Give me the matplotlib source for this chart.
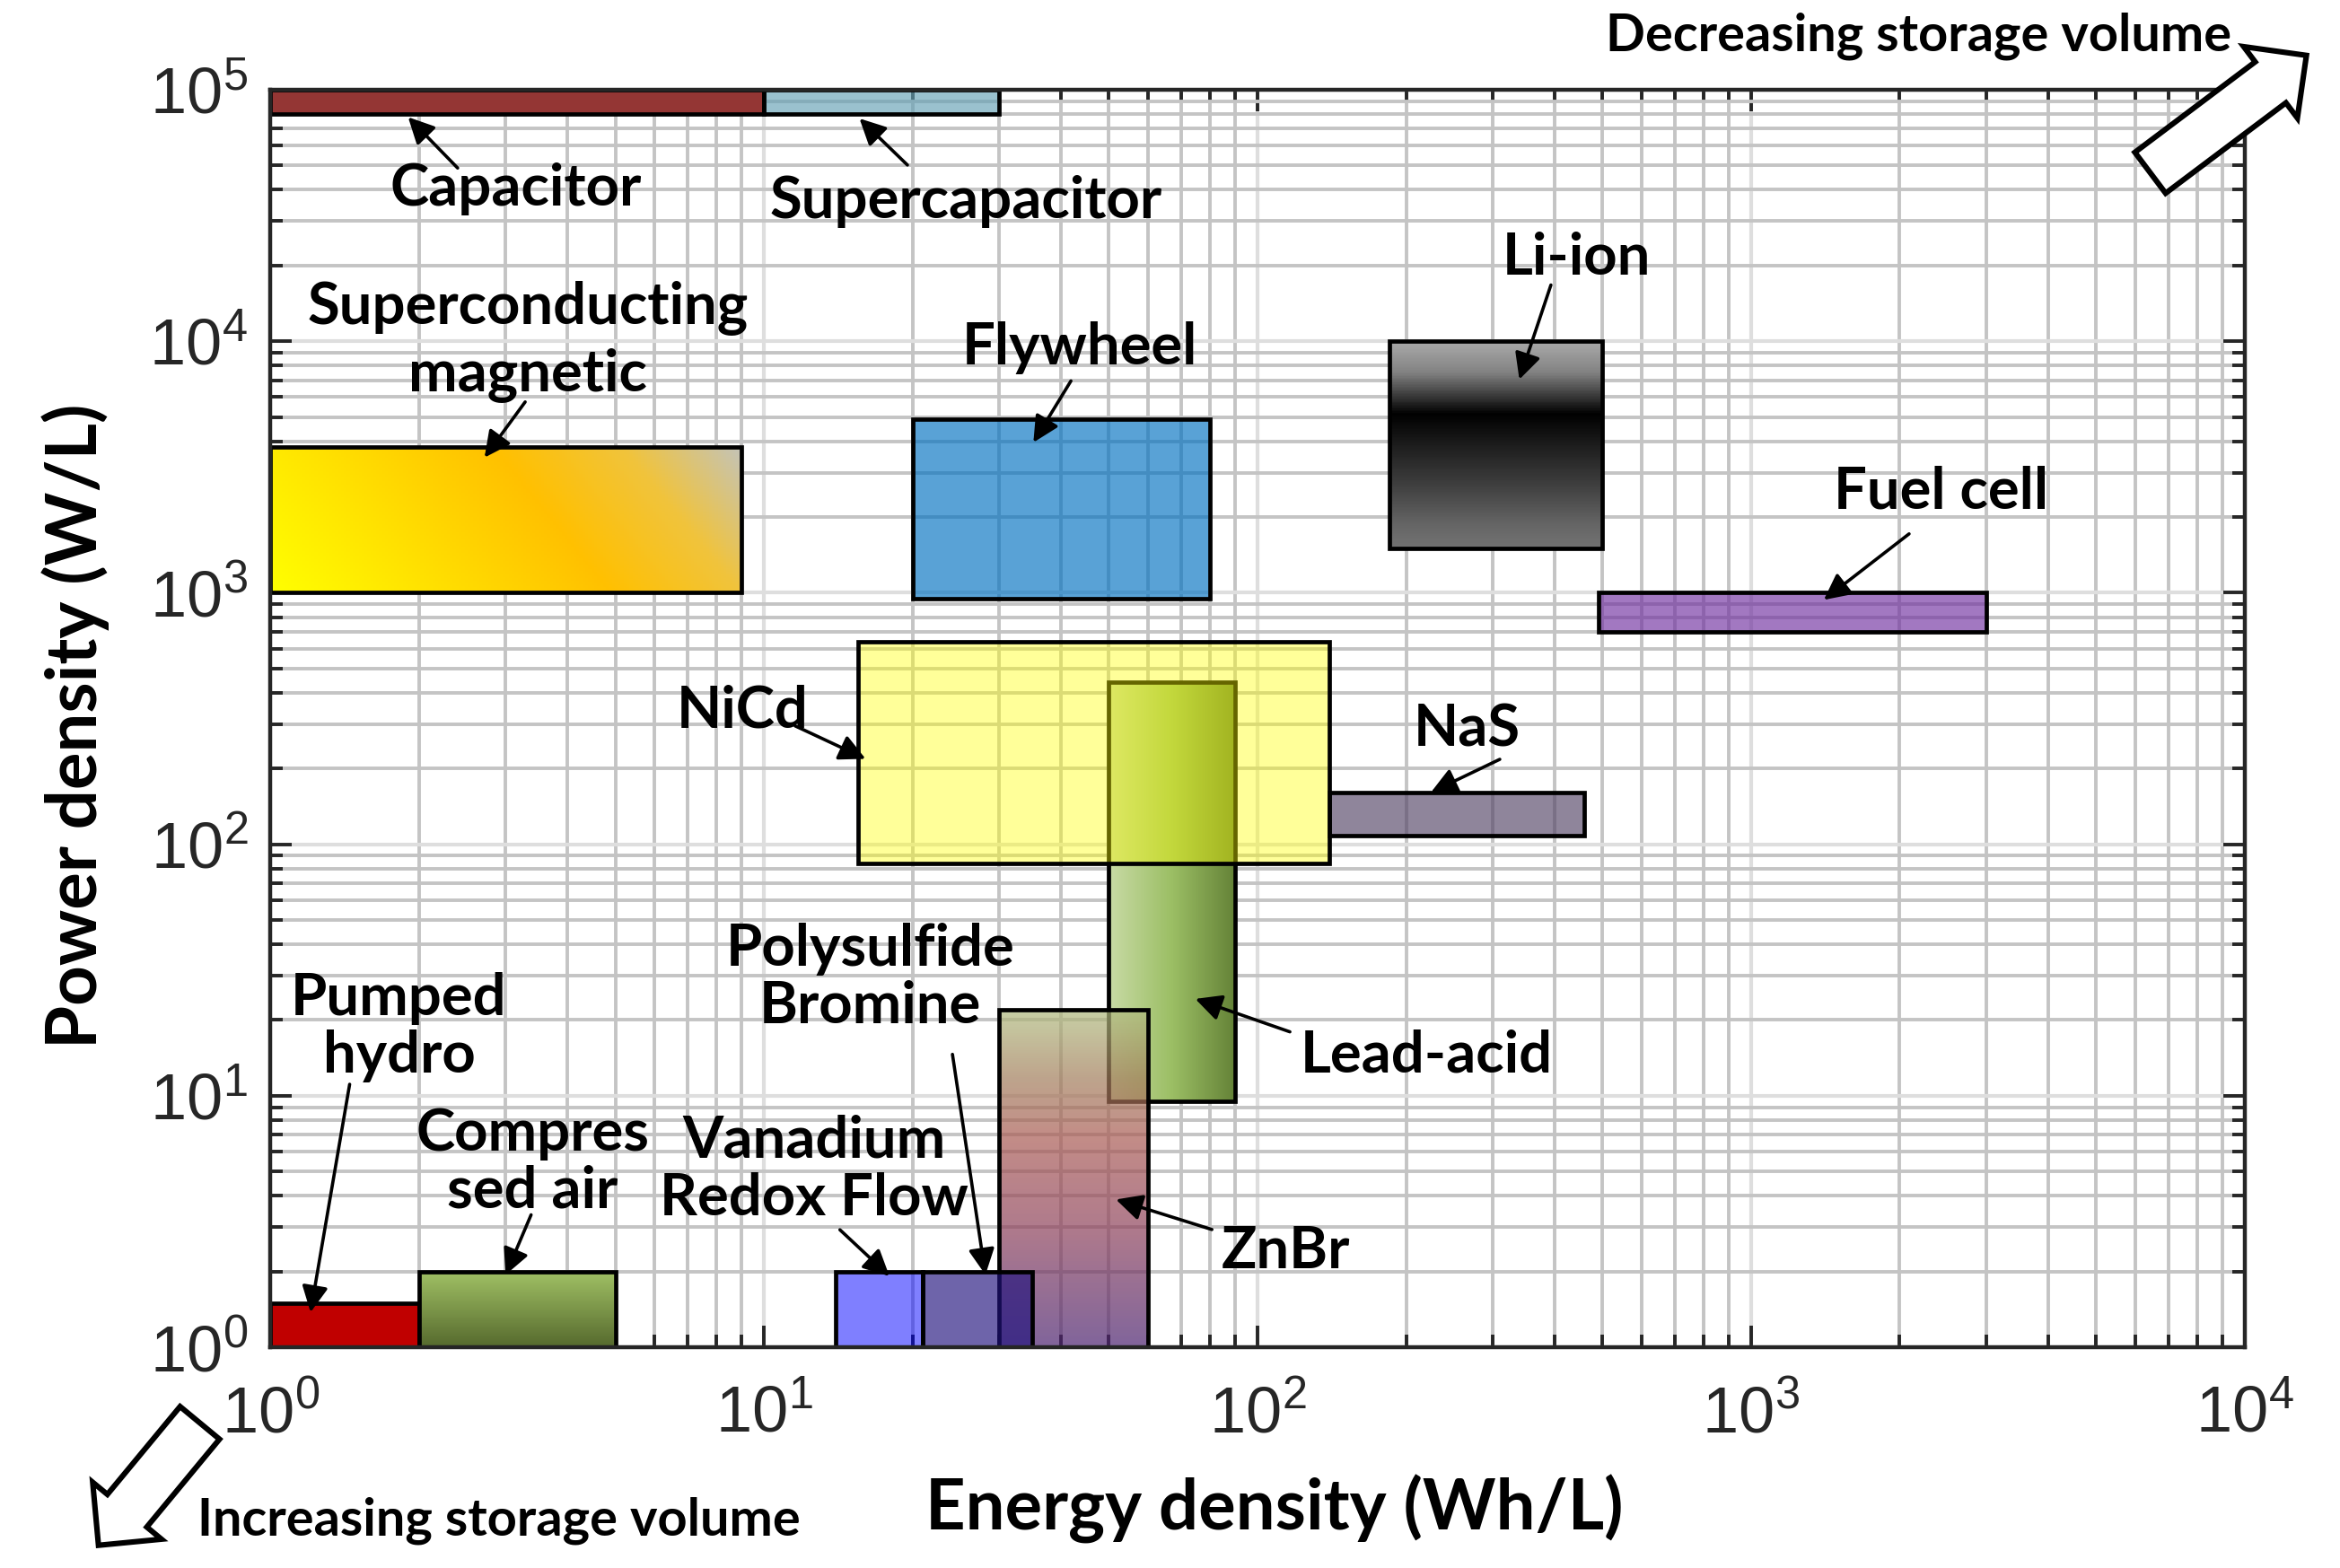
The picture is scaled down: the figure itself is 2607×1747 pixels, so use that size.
import numpy as np
import matplotlib
matplotlib.use("Agg")
import matplotlib.pyplot as plt
from matplotlib.patches import Rectangle, FancyArrow
from matplotlib.ticker import LogLocator, LogFormatterSciNotation, NullFormatter

# ---------------- data ----------------
technologies = ["Capacitor", "Supercapacitor", "Superconducting magnetic", "Flywheel",
                "Li-ion", "Fuel cell", "Lead-acid", "NiCd", "NaS", "ZnBr",
                "Vanadium Redox Flow", "Polysulfide Bromine", "Pumped hydro", "Compressed air"]
energy_min = [1.0, 10.0, 1.0, 20.0, 185.0, 490.0, 50.0, 15.5, 140.0, 30.0, 14.0, 21.0, 1.0, 2.0]
energy_max = [10.0, 30.0, 9.0, 80.0, 500.0, 3000.0, 90.0, 140.0, 460.0, 60.0, 21.0, 35.0, 2.0, 5.0]
power_min = [8.0e4, 8.0e4, 1000.0, 950.0, 1500.0, 700.0, 9.5, 84.0, 108.0, 1.0, 1.0, 1.0, 1.0, 1.0]
power_max = [1.0e5, 1.0e5, 3800.0, 4900.0, 1.0e4, 1000.0, 440.0, 640.0, 160.0, 22.0, 2.0, 2.0, 1.5, 2.0]

x_limits = [1, 1e4]
y_limits = [1, 1e5]

# ---------------- styles ----------------
ANN_FONT = dict(family=["Lato", "DejaVu Sans"], weight="bold")
plt.rcParams["font.family"] = ["Liberation Sans", "DejaVu Sans"]
plt.rcParams["mathtext.default"] = "regular"

solid = {
    "Capacitor": ((148/255, 54/255, 52/255, 1.0), 3),
    "Supercapacitor": ((100/255, 160/255, 180/255, 0.65), 3),
    "Flywheel": ((0/255, 112/255, 192/255, 0.65), 3),
    "Fuel cell": ((112/255, 48/255, 160/255, 0.65), 3),
    "NiCd": ((1.0, 1.0, 0.0, 0.4), 4),
    "NaS": ((83/255, 68/255, 101/255, 0.65), 3),
    "Vanadium Redox Flow": ((0.0, 0.0, 1.0, 0.5), 6),
    "Polysulfide Bromine": ((32/255, 17/255, 125/255, 0.65), 6),
    "Pumped hydro": ((192/255, 0.0, 0.0, 1.0), 3),
}
# gradient: (axis variable, stops, alpha, zorder)
gradients = {
    "Superconducting magnetic": ("diag", [(0.0, (255, 255, 0)), (0.58, (255, 192, 0)),
                                           (0.8, (240, 195, 60)), (1.0, (195, 195, 185))], 1.0, 3),
    "Li-ion": ("v", [(0.0, (115, 115, 115)), (0.12, (100, 100, 100)), (0.32, (60, 60, 60)),
                     (0.5, (28, 28, 28)), (0.65, (0, 0, 0)), (0.74, (60, 60, 60)),
                     (0.85, (130, 130, 130)), (1.0, (170, 170, 170))], 1.0, 3),
    "Lead-acid": ("h", [(0.0, (200, 218, 165)), (0.5, (155, 190, 100)), (1.0, (100, 130, 55))], 1.0, 3),
    "ZnBr": ("v", [(0.0, (74, 34, 112)), (0.35, (141, 65, 91)), (0.62, (169, 91, 84)),
                   (0.8, (162, 126, 91)), (1.0, (176, 188, 126))], 0.7, 5),
    "Compressed air": ("v", [(0.0, (85, 105, 45)), (1.0, (160, 192, 100))], 1.0, 3),
}

EDGE_LW = 1.7
ANN_SIZE = 23.5

# annotation text & arrow positions (axes fraction)
labels = [
    ("Capacitor", (0.1245, 0.9210), (0.0949, 0.9377), (0.0698, 0.9782), 1.1),
    ("Supercapacitor", (0.3523, 0.9114), (0.3227, 0.9401), (0.2984, 0.9771), 1.1),
    ("Superconducting\nmagnetic", (0.1306, 0.7994), (0.1291, 0.7517), (0.1085, 0.7075), 1.3),
    ("Flywheel", (0.4101, 0.7946), (0.4055, 0.7684), (0.3865, 0.7195), 1.1),
    ("Li-ion", (0.6615, 0.8662), (0.6486, 0.8447), (0.6326, 0.7696), 1.1),
    ("Fuel cell", (0.8460, 0.6802), (0.8300, 0.6468), (0.7868, 0.5943), 1.1),
    ("NiCd", (0.2392, 0.5060), (0.2658, 0.4941), (0.3015, 0.4679), 1.1),
    ("NaS", (0.6060, 0.4913), (0.6227, 0.4675), (0.5878, 0.4412), 1.1),
    ("Lead-acid", (0.5855, 0.2317), (0.5164, 0.2508), (0.4685, 0.2770), 1.1),
    ("ZnBr", (0.5141, 0.0757), (0.4769, 0.0936), (0.4283, 0.1175), 1.1),
    ("Polysulfide\nBromine", (0.3037, 0.2937), (0.3455, 0.2329), (0.3622, 0.0576), 1.1),
    ("Vanadium\nRedox Flow", (0.2756, 0.1411), (0.2885, 0.0934), (0.3136, 0.0565), 1.1),
    ("Pumped\nhydro", (0.0652, 0.2544), (0.0402, 0.2091), (0.0204, 0.0278), 1.1),
    ("Compres\nsed air", (0.1328, 0.1470), (0.1321, 0.1053), (0.1192, 0.0576), 1.1),
]


def ramp(t, stops):
    pos = [s[0] for s in stops]
    out = np.zeros(t.shape + (3,))
    for c in range(3):
        out[..., c] = np.interp(t, pos, [s[1][c] / 255.0 for s in stops])
    return out


def gradient_box(ax, x0, x1, y0, y1, mode, stops, alpha, z, n=160):
    xs = np.geomspace(x0, x1, n + 1)
    ys = np.geomspace(y0, y1, n + 1)
    u = (np.arange(n) + 0.5) / n
    U, V = np.meshgrid(u, u)
    if mode == "h":
        t = U
    elif mode == "v":
        t = V
    else:
        t = (U + 0.25 * V) / 1.25
    rgb = ramp(t, stops)
    rgba = np.dstack([rgb, np.full(U.shape, alpha)])
    ax.pcolormesh(xs, ys, rgba, shading="flat", edgecolors="none",
                  antialiased=False, zorder=z)
    ax.add_patch(Rectangle((x0, y0), x1 - x0, y1 - y0, fill=False, ec="black",
                           lw=EDGE_LW, zorder=z + 0.1))


# ---------------- figure ----------------
fig = plt.figure(figsize=(13.035, 8.735), dpi=200)
ax = fig.add_axes([0.1155, 0.1408, 0.9593 - 0.1155, 0.9428 - 0.1408])
ax.set_xscale("log")
ax.set_yscale("log")
ax.set_xlim(x_limits)
ax.set_ylim(y_limits)

for name, e0, e1, p0, p1 in zip(technologies, energy_min, energy_max, power_min, power_max):
    if name in gradients:
        mode, stops, alpha, z = gradients[name]
        gradient_box(ax, e0, e1, p0, p1, mode, stops, alpha, z)
    else:
        fc, z = solid[name]
        ax.add_patch(Rectangle((e0, p0), e1 - e0, p1 - p0, facecolor=fc,
                               edgecolor="black", lw=EDGE_LW, zorder=z))

# axes styling
ax.set_axisbelow(True)
ax.xaxis.set_major_locator(LogLocator(base=10, numticks=10))
ax.yaxis.set_major_locator(LogLocator(base=10, numticks=10))
ax.xaxis.set_minor_locator(LogLocator(base=10, subs=np.arange(2, 10), numticks=100))
ax.yaxis.set_minor_locator(LogLocator(base=10, subs=np.arange(2, 10), numticks=100))
ax.xaxis.set_major_formatter(LogFormatterSciNotation())
ax.yaxis.set_major_formatter(LogFormatterSciNotation())
ax.xaxis.set_minor_formatter(NullFormatter())
ax.yaxis.set_minor_formatter(NullFormatter())
ax.grid(True, which="minor", color="#C4C4C4", lw=1.4)
ax.grid(True, which="major", color="#DEDEDE", lw=1.5)
ax.tick_params(which="both", direction="in", top=True, right=True,
               color="#262626", width=1.4, labelcolor="#262626", labelsize=26)
ax.tick_params(which="major", length=8.6)
ax.tick_params(which="minor", length=5)
ax.tick_params(axis="x", which="major", pad=15)
ax.tick_params(axis="y", which="major", pad=9)
for sp in ax.spines.values():
    sp.set_linewidth(1.6)
    sp.set_color("#262626")
    sp.set_zorder(10)

ax.set_xlabel("Energy density (Wh/L)", fontsize=28, **ANN_FONT)
ax.set_ylabel("Power density (W/L)", fontsize=28, **ANN_FONT)
ax.xaxis.set_label_coords(0.5084, -0.1285)
ax.xaxis.label.set_va("center")
ax.yaxis.set_label_coords(-0.0988, 0.494)
ax.yaxis.label.set_va("center")

for text, tpos, tail, tip, ls in labels:
    ax.text(tpos[0], tpos[1], text, transform=ax.transAxes, ha="center", va="center",
            fontsize=ANN_SIZE, linespacing=ls, zorder=20, clip_on=False, **ANN_FONT)
    ax.annotate("", xy=tip, xycoords="axes fraction", xytext=tail, textcoords="axes fraction",
                arrowprops=dict(arrowstyle="-|>", color="black", lw=1.3, mutation_scale=22,
                                shrinkA=0, shrinkB=0), zorder=20, annotation_clip=False)

# storage volume hints
fig.text(0.8201, 0.9771, "Decreasing storage volume", ha="center", va="center",
         fontsize=20.8, **ANN_FONT)
fig.text(0.2133, 0.0300, "Increasing storage volume", ha="center", va="center",
         fontsize=20.8, **ANN_FONT)
for (x, y, dx, dy) in [(11.978, 7.7725, 0.870, 0.654), (1.113, 0.8085, -0.5645, -0.682)]:
    arr = FancyArrow(x, y, dx, dy, width=0.285, head_width=0.4975, head_length=0.25,
                     length_includes_head=True, transform=fig.dpi_scale_trans,
                     facecolor="white", edgecolor="black", lw=2.2, zorder=30)
    fig.add_artist(arr)

fig.savefig("out.png", dpi=200)
